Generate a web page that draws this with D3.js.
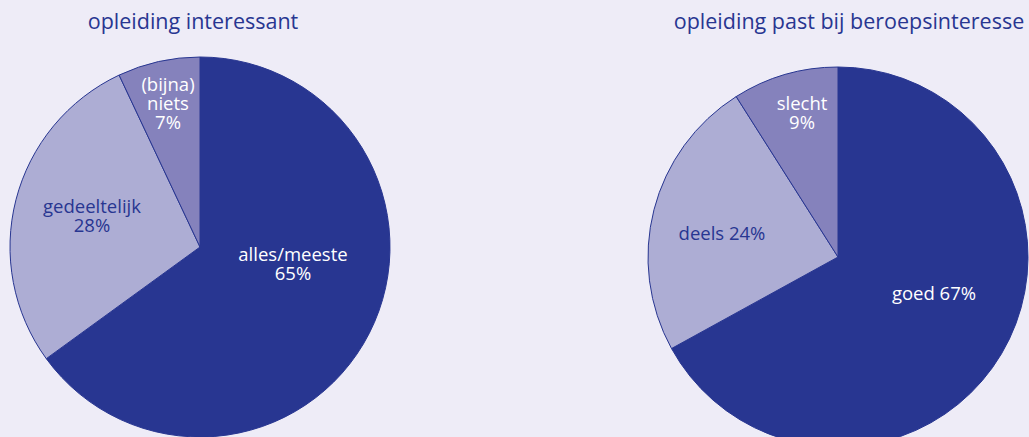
<!DOCTYPE html>
<html>
<head>
<meta charset="utf-8">
<script src="https://cdn.jsdelivr.net/npm/d3@7"></script>
<style>
  html, body { margin: 0; padding: 0; background: #eeecf7; }
  svg { display: block; }
  text { font-family: "Open Sans", "Noto Sans", sans-serif; }
</style>
</head>
<body>
<svg id="chart" width="1029" height="437"></svg>
<script>
// Survey answers, share of respondents (%)
const titles = ["opleiding interessant", "opleiding past bij beroepsinteresse"];
const leftCategories = [["alles/meeste"], ["gedeeltelijk"], ["(bijna)", "niets"]];
const leftValues = [65, 28, 7];
const rightCategories = [["goed"], ["deels"], ["slecht"]];
const rightValues = [67, 24, 9];

const W = 1029, H = 437;
const colors = ["#283691", "#adadd4", "#8582bc"];
const labelColors = ["#ffffff", "#283691", "#ffffff"];
const outline = "#283691";
const labelSize = 18.5, lineStep = 19;

const svg = d3.select("#chart");
svg.append("rect").attr("width", W).attr("height", H).attr("fill", "#eeecf7");

// Layout of each pie: centre, radius, title position and label placement
const layouts = [
  {
    cx: 200, cy: 247, r: 190, titleX: 193, titleY: 29,
    // label anchor offsets from pie centre; "inline" puts the value on the same line
    labels: [
      { dx: 93, dy: 14, inline: false },
      { dx: -108, dy: -34, inline: false },
      { dx: -32, dy: -156, inline: false }
    ]
  },
  {
    cx: 838, cy: 257, r: 190, titleX: 849, titleY: 29,
    labels: [
      { dx: 96, dy: 43, inline: true },
      { dx: -116, dy: -17, inline: true },
      { dx: -36, dy: -147, inline: false }
    ]
  }
];

const pies = [
  { title: titles[0], cats: leftCategories, vals: leftValues },
  { title: titles[1], cats: rightCategories, vals: rightValues }
];

const pie = d3.pie().sort(null).value(d => d);

pies.forEach((p, i) => {
  const L = layouts[i];
  const arc = d3.arc().innerRadius(0).outerRadius(L.r);
  const g = svg.append("g").attr("transform", `translate(${L.cx},${L.cy})`);

  g.selectAll("path.slice")
    .data(pie(p.vals))
    .join("path")
    .attr("class", "slice")
    .attr("d", arc)
    .attr("fill", (d, j) => colors[j])
    .attr("stroke", outline)
    .attr("stroke-width", 1)
    .attr("stroke-linejoin", "round");

  svg.append("text")
    .attr("x", L.titleX)
    .attr("y", L.titleY)
    .attr("text-anchor", "middle")
    .attr("fill", outline)
    .attr("font-size", 21.5)
    .text(p.title);

  p.vals.forEach((v, j) => {
    const lab = L.labels[j];
    const lines = lab.inline
      ? [p.cats[j].join(" ") + " " + v + "%"]
      : [...p.cats[j], v + "%"];
    const t = g.append("text")
      .attr("text-anchor", "middle")
      .attr("fill", labelColors[j])
      .attr("font-size", labelSize);
    lines.forEach((line, k) => {
      t.append("tspan")
        .attr("x", lab.dx)
        .attr("y", lab.dy + k * lineStep)
        .text(line);
    });
  });
});
</script>
</body>
</html>
